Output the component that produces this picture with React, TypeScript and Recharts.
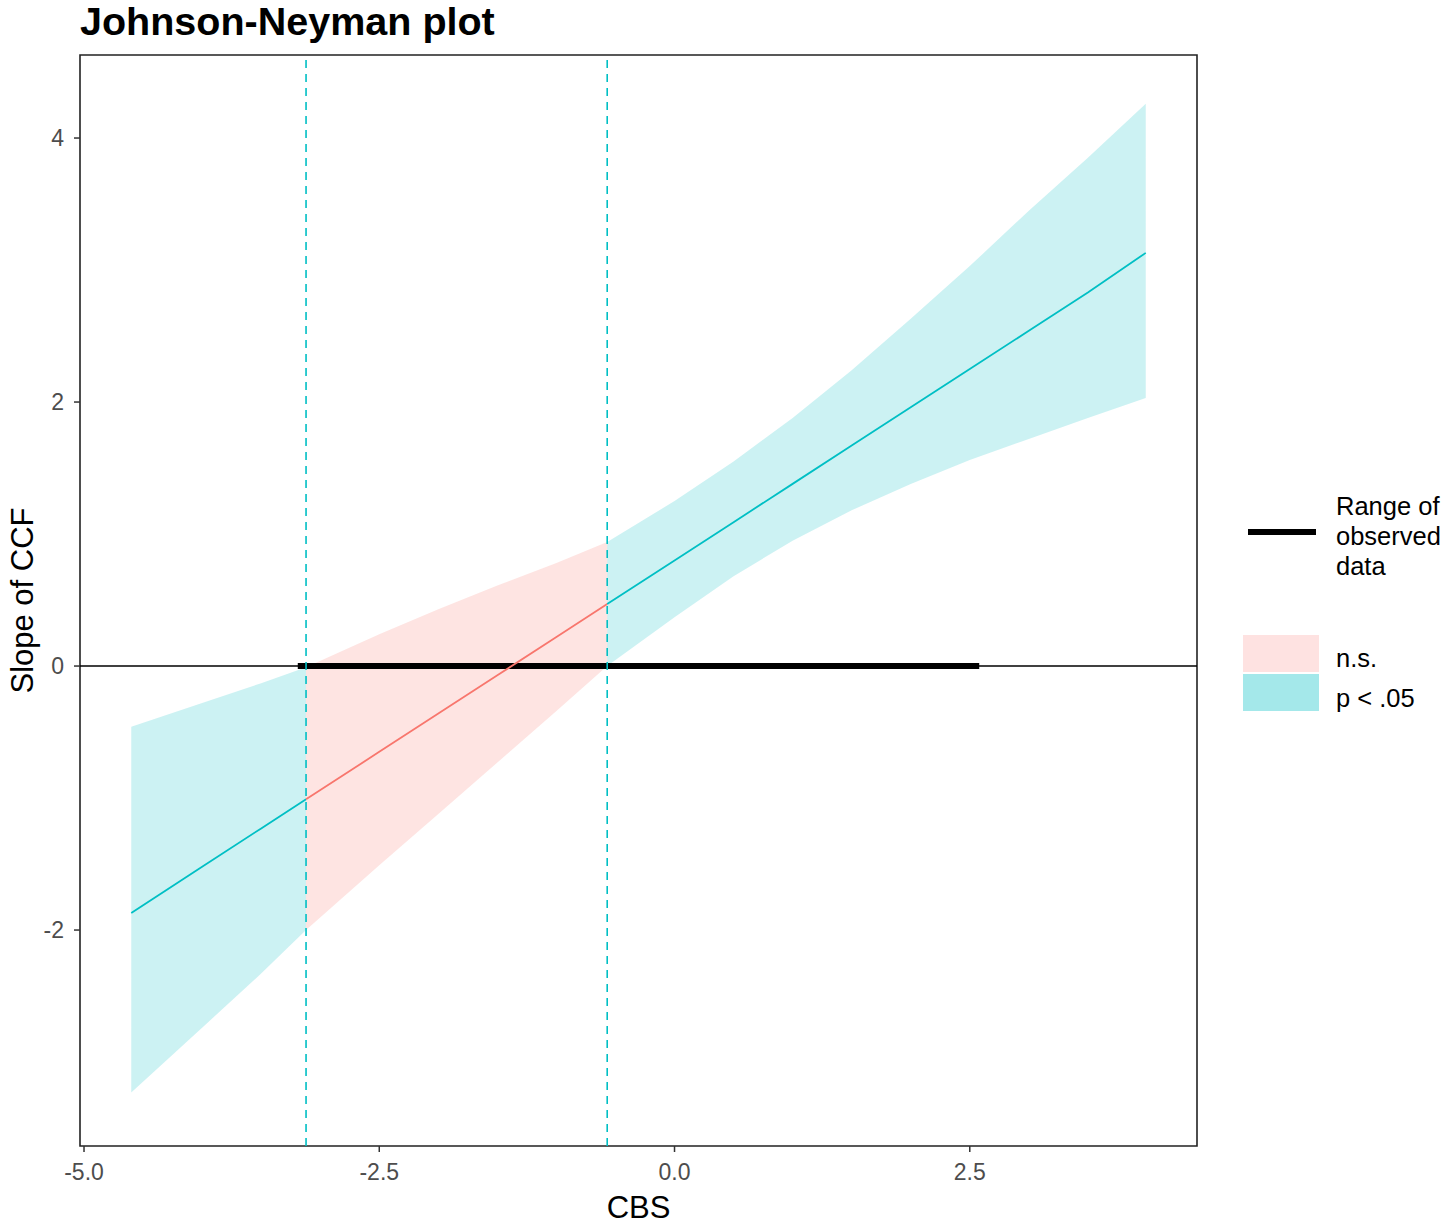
import React from "react";
import {
  ComposedChart, Area, Line, XAxis, YAxis,
  ReferenceLine, ReferenceArea,
} from "recharts";

const cbs    = [-4.6, -4.0, -3.5, -3.12, -2.5, -2.0, -1.5, -1.0, -0.57, 0, 0.5, 1.0, 1.5, 2.0, 2.5, 3.0, 3.5, 3.99];
const slope  = [-1.87, -1.52, -1.23, -1.01, -0.65, -0.36, -0.07, 0.22, 0.47, 0.80, 1.09, 1.38, 1.67, 1.96, 2.25, 2.54, 2.83, 3.13];
const upper  = [-0.46, -0.28, -0.13, -0.01, 0.24, 0.43, 0.61, 0.78, 0.94, 1.25, 1.55, 1.88, 2.24, 2.63, 3.03, 3.45, 3.85, 4.26];
const lower  = [-3.23, -2.74, -2.33, -2.00, -1.51, -1.12, -0.73, -0.34, 0.00, 0.37, 0.68, 0.95, 1.18, 1.38, 1.56, 1.72, 1.88, 2.03];

const jnBounds      = [-3.12, -0.57];
const observedRange = [-3.19, 2.58];
const xTicks        = [-5, -2.5, 0, 2.5];
const yTicks        = [-2, 0, 2, 4];
const xDomain       = [-5.034, 4.424];
const yDomain       = [-3.636, 4.629];

const SIG = "#00BFC4";
const NS  = "#F8766D";
const FONT = "'Liberation Sans', Arial, sans-serif";

const eps = 1e-9;
const data = cbs.map((x, i) => {
  const band: [number, number] = [lower[i], upper[i]];
  const left  = x <= jnBounds[0] + eps;
  const mid   = x >= jnBounds[0] - eps && x <= jnBounds[1] + eps;
  const right = x >= jnBounds[1] - eps;
  return {
    x,
    bandL: left ? band : null,
    bandN: mid ? band : null,
    bandR: right ? band : null,
    fitL: left ? slope[i] : null,
    fitN: mid ? slope[i] : null,
    fitR: right ? slope[i] : null,
  };
});

export default function App() {
  return (
    <div style={{ position: "absolute", left: 0, top: 0, width: 1449, height: 1224, background: "#fff", fontFamily: FONT }}>
      <div style={{ position: "absolute", left: 80, top: 2, fontSize: 39.5, lineHeight: "38px", fontWeight: 700, color: "#000" }}>
        Johnson-Neyman plot
      </div>

      <ComposedChart
        width={1449}
        height={1224}
        data={data}
        margin={{ top: 55, right: 252, bottom: 0, left: 0 }}
      >
        <XAxis
          dataKey="x"
          type="number"
          domain={xDomain}
          allowDataOverflow
          ticks={xTicks}
          tickFormatter={(v: number) => v.toFixed(1)}
          tick={{ fontSize: 23, fill: "#4D4D4D", fontFamily: FONT }}
          tickLine={{ stroke: "#333", strokeWidth: 1.5 }}
          tickSize={6}
          tickMargin={12}
          axisLine={false}
          height={78}
          label={{ value: "CBS", position: "insideBottom", offset: 6, fontSize: 31, fill: "#000", fontFamily: FONT }}
        />
        <YAxis
          type="number"
          domain={yDomain}
          allowDataOverflow
          ticks={yTicks}
          tick={{ fontSize: 23, fill: "#4D4D4D", fontFamily: FONT }}
          tickLine={{ stroke: "#333", strokeWidth: 1.5 }}
          tickSize={6}
          tickMargin={10}
          axisLine={false}
          width={80}
          label={{ value: "Slope of CCF", angle: -90, position: "insideLeft", offset: 22, fontSize: 31, fill: "#000", fontFamily: FONT, style: { textAnchor: "middle" } }}
        />

        <Area dataKey="bandL" type="linear" fill={SIG} fillOpacity={0.2} stroke="none" isAnimationActive={false} />
        <Area dataKey="bandN" type="linear" fill={NS}  fillOpacity={0.2} stroke="none" isAnimationActive={false} />
        <Area dataKey="bandR" type="linear" fill={SIG} fillOpacity={0.2} stroke="none" isAnimationActive={false} />

        <ReferenceLine y={0} stroke="#000" strokeWidth={1.6} />
        <ReferenceLine
          segment={[{ x: observedRange[0], y: 0 }, { x: observedRange[1], y: 0 }]}
          stroke="#000"
          strokeWidth={6}
        />

        <Line dataKey="fitL" type="linear" stroke={SIG} strokeWidth={1.8} dot={false} isAnimationActive={false} />
        <Line dataKey="fitN" type="linear" stroke={NS}  strokeWidth={1.8} dot={false} isAnimationActive={false} />
        <Line dataKey="fitR" type="linear" stroke={SIG} strokeWidth={1.8} dot={false} isAnimationActive={false} />

        <ReferenceLine x={jnBounds[0]} stroke={SIG} strokeWidth={1.6} strokeDasharray="8 6" />
        <ReferenceLine x={jnBounds[1]} stroke={SIG} strokeWidth={1.6} strokeDasharray="8 6" />

        <ReferenceArea
          x1={xDomain[0]} x2={xDomain[1]} y1={yDomain[0]} y2={yDomain[1]}
          fill="none" stroke="#222" strokeWidth={1.6} fillOpacity={0}
        />
      </ComposedChart>

      {/* legend */}
      <div style={{ position: "absolute", left: 1248, top: 529, width: 68, height: 6, background: "#000" }} />
      <div style={{ position: "absolute", left: 1336, top: 491, fontSize: 25.5, lineHeight: "30px", color: "#000" }}>
        Range of<br />observed<br />data
      </div>
      <div style={{ position: "absolute", left: 1243, top: 635, width: 76, height: 37, background: "#FEE2E1" }} />
      <div style={{ position: "absolute", left: 1243, top: 674, width: 76, height: 37, background: "#A4E8EA" }} />
      <div style={{ position: "absolute", left: 1336, top: 643, fontSize: 25.5, lineHeight: "30px", color: "#000" }}>n.s.</div>
      <div style={{ position: "absolute", left: 1336, top: 683, fontSize: 25.5, lineHeight: "30px", color: "#000" }}>p &lt; .05</div>
    </div>
  );
}
